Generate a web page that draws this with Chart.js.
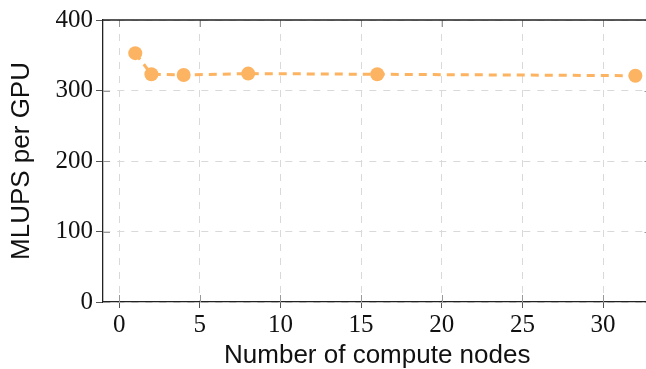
<!DOCTYPE html>
<html>
<head>
<meta charset="utf-8">
<script src="https://cdn.jsdelivr.net/npm/chart.js@4"></script>
<style>
  html, body { margin: 0; padding: 0; background: #fff; overflow: hidden; }
</style>
</head>
<body>
<canvas id="mlupsChart" width="660" height="369"></canvas>
<script>
// Data
var nodes = [1, 2, 4, 8, 16, 32];
var mlupsPerGpu = [353, 323, 322, 324, 323, 321];
var xTicks = [0, 5, 10, 15, 20, 25, 30];
var yTicks = [0, 100, 200, 300, 400];

var orange = 'rgb(253, 180, 98)';

// frame on top/right plus small inward tick marks, like pgfplots
var framePlugin = {
    id: 'frame',
    afterDraw: function (chart) {
        var ctx = chart.ctx;
        var a = chart.chartArea;
        var xs = chart.scales.x;
        var ys = chart.scales.y;
        ctx.save();
        ctx.strokeStyle = '#999';
        ctx.lineWidth = 1;
        xTicks.forEach(function (v) {
            var px = Math.round(xs.getPixelForValue(v)) + 0.5;
            ctx.beginPath();
            ctx.moveTo(px, a.bottom); ctx.lineTo(px, a.bottom - 7);
            ctx.moveTo(px, a.top); ctx.lineTo(px, a.top + 7);
            ctx.stroke();
        });
        yTicks.forEach(function (v) {
            var py = Math.round(ys.getPixelForValue(v)) + 0.5;
            ctx.beginPath();
            ctx.moveTo(a.left, py); ctx.lineTo(a.left + 7, py);
            ctx.moveTo(a.right, py); ctx.lineTo(a.right - 7, py);
            ctx.stroke();
        });
        ctx.strokeStyle = '#222';
        ctx.lineWidth = 1.3;
        ctx.beginPath();
        ctx.moveTo(a.left, a.top);
        ctx.lineTo(a.right, a.top);
        ctx.lineTo(a.right, a.bottom);
        ctx.stroke();
        ctx.restore();
    }
};

var mlupsChart = new Chart(document.getElementById('mlupsChart'), {
    type: 'line',
    data: {
        datasets: [{
            label: 'MLUPS per GPU',
            data: nodes.map(function (n, i) { return { x: n, y: mlupsPerGpu[i] }; }),
            borderColor: orange,
            backgroundColor: orange,
            borderWidth: 3,
            borderDash: [8, 6],
            pointRadius: 7,
            pointBackgroundColor: orange,
            pointBorderWidth: 0,
            tension: 0
        }]
    },
    options: {
        responsive: false,
        animation: false,
        layout: { padding: { top: 20, right: 8.5, left: 0, bottom: 0 } },
        plugins: {
            legend: { display: false },
            tooltip: { enabled: false }
        },
        scales: {
            x: {
                type: 'linear',
                min: -1,
                max: 33,
                afterBuildTicks: function (scale) {
                    scale.ticks = xTicks.map(function (v) { return { value: v }; });
                },
                afterFit: function (scale) { scale.height = 67; },
                ticks: {
                    font: { family: 'Liberation Serif', size: 25 },
                    color: '#111',
                    padding: 2,
                    maxRotation: 0
                },
                grid: {
                    color: '#d9d9d9',
                    lineWidth: 1,
                    drawTicks: true,
                    tickLength: 6,
                    tickColor: '#555',
                    tickBorderDash: []
                },
                border: { display: true, color: '#222', width: 1.3, dash: [7, 7] },
                title: {
                    display: true,
                    text: 'Number of compute nodes',
                    font: { family: 'Liberation Sans', size: 26, lineHeight: 1 },
                    color: '#111',
                    padding: { top: 0, bottom: 0 }
                }
            },
            y: {
                min: 0,
                max: 400,
                afterBuildTicks: function (scale) {
                    scale.ticks = yTicks.map(function (v) { return { value: v }; });
                },
                afterFit: function (scale) { scale.width = 103; },
                ticks: {
                    font: { family: 'Liberation Serif', size: 25 },
                    color: '#111',
                    padding: 3
                },
                grid: {
                    color: '#d9d9d9',
                    lineWidth: 1,
                    drawTicks: true,
                    tickLength: 7,
                    tickColor: '#555',
                    tickBorderDash: []
                },
                border: { display: true, color: '#222', width: 1.3, dash: [7, 7] },
                title: {
                    display: true,
                    text: 'MLUPS per GPU',
                    font: { family: 'Liberation Sans', size: 26, lineHeight: 1 },
                    color: '#111',
                    padding: { top: 9, bottom: 0 }
                }
            }
        }
    },
    plugins: [framePlugin]
});
</script>
</body>
</html>
